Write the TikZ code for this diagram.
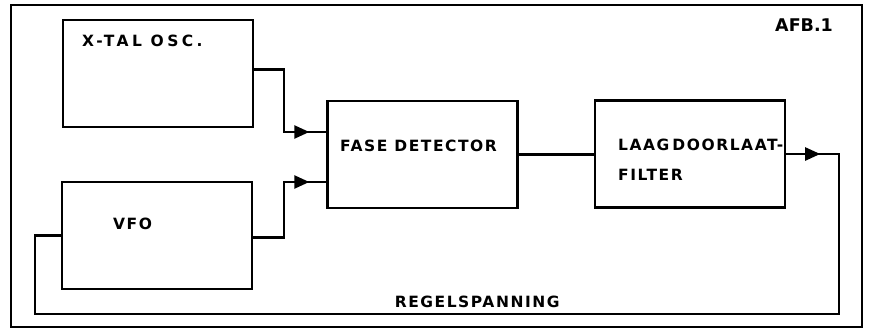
\documentclass[tikz,border=0pt]{standalone}
\usepackage{fontspec}
\newfontfamily\handfont[LetterSpace=10]{DejaVu Sans}
\newfontfamily\handwidefont[LetterSpace=22]{DejaVu Sans}
\newfontfamily\handtightfont{DejaVu Sans}
\usetikzlibrary{arrows.meta,decorations.markings}

\begin{document}
\begin{tikzpicture}
[x=1pt,y=-1pt,
  boxDecorate/.style={shape=rectangle,draw,line width=2.4pt,minimum width=190pt,minimum height=107pt,inner sep=0pt},
  lineDecorate/.style={-,line width=2.4pt},
  arrowAt/.style={postaction={decorate},decoration={markings,
      mark=at position #1 with {\arrow{Triangle[length=15pt,width=13pt]}}}},
  frameDecorate/.style={line width=1.6pt},
  textDecorate/.style={anchor=west,inner sep=0pt,font=\handfont\bfseries\fontsize{15.5}{18}\selectfont}]
\useasboundingbox (0,0) rectangle (870,335);
%% outer frame
\draw[frameDecorate] (11,5) rectangle (862,327);
%% blocks
\foreach \nodename/\x/\y in {
  xtal/158/73.5,
  vfo/157/235.5,
  fase/422.5/154.5,
  lpf/690/154}
{
  \node (\nodename) at (\x,\y) [boxDecorate] {};
}
%% block texts
\foreach \nodename/\x/\y/\txt in {
  vfoText/113/224/VFO,
  faseText/340/146/FASE DETECTOR,
  lpfTextA/618/145/LAAG\kern3pt DOORLAAT-,
  lpfTextB/618/175/FILTER}
{
  \node (\nodename) at (\x,\y) [textDecorate] {\txt};
}
\node (xtalText) at (82,41) [textDecorate,font=\handwidefont\bfseries\fontsize{15.5}{18}\selectfont] {X-TAL OSC.};
\node (afb) at (775,25) [textDecorate,font=\handtightfont\bfseries\fontsize{17.5}{21}\selectfont] {AFB.1};
%% bends of the connections
\coordinate (bendA) at (284,132);
\coordinate (bendB) at (284,182);
\coordinate (loopR) at (839,314);
\coordinate (loopL) at (35,314);
%% connections
\draw[lineDecorate,arrowAt=-17pt] ([yshift=4pt]xtal.east) -| (bendA) -- (bendA -| fase.west);
\draw[lineDecorate,arrowAt=-17pt] ([yshift=-2pt]vfo.east) -| (bendB) -- (bendB -| fase.west);
\draw[lineDecorate] (fase.east) -- (fase.east -| lpf.west);
\draw[lineDecorate,arrowAt=34pt] (lpf.east) -| (loopR)
  -- node[pos=0.45,above=5pt,textDecorate,anchor=south] {REGELSPANNING} (loopL)
  |- (vfo.west);
\end{tikzpicture}
\end{document}
